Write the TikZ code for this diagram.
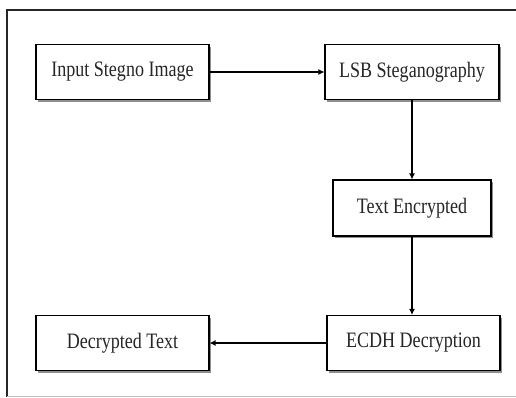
\documentclass[tikz,border=0pt]{standalone}
\usepackage{fontspec}
\usepackage{tikz}
\usetikzlibrary{arrows.meta}
\usetikzlibrary{shadows}
\usetikzlibrary{positioning}
\newfontfamily\boxfont[FakeStretch=0.82]{Liberation Serif}
\tikzset{stage/.style = {draw, line width=1.1pt, fill=white, text=black!85,
                         drop shadow={shadow xshift=2pt, shadow yshift=-2pt, fill=black!55, opacity=0.8},
                         font=\boxfont\fontsize{22}{24}\selectfont,
                         inner sep=0, minimum width=173pt, minimum height=55pt}}
\tikzset{flow/.style = {line width=1.4pt, -{Latex[length=6pt, width=6pt]}}}

\begin{document}
\begin{tikzpicture}[x=1pt, y=-1pt]
      \useasboundingbox (0, 0) rectangle (516, 397);
      \fill [white] (0, 0) rectangle (516, 397);

      % frame
      \draw [line width=2pt, black!85] (520, 10) -- (7, 10) -- (7, 397);
      \draw [line width=1pt, black!25] (7, 396) -- (520, 396);

      \node [stage] (input) at (122.5, 72) {Input Stegno Image};
      \node [stage, minimum width=174pt] (lsb) at (412, 72) {LSB Steganography};
      \node [stage, minimum width=158pt, minimum height=56pt] (enc) at (412, 208) {Text Encrypted};
      \node [stage] (ecdh) at (413.5, 343) {ECDH Decryption};
      \node [stage] (dec) at (122.5, 343) {Decrypted Text};

      \draw [flow] (input) -- (lsb);
      \draw [flow] (lsb) -- (enc);
      \draw [flow] (enc) -- (enc |- ecdh.north);
      \draw [flow] (ecdh) -- (dec);
    \end{tikzpicture}
\end{document}
